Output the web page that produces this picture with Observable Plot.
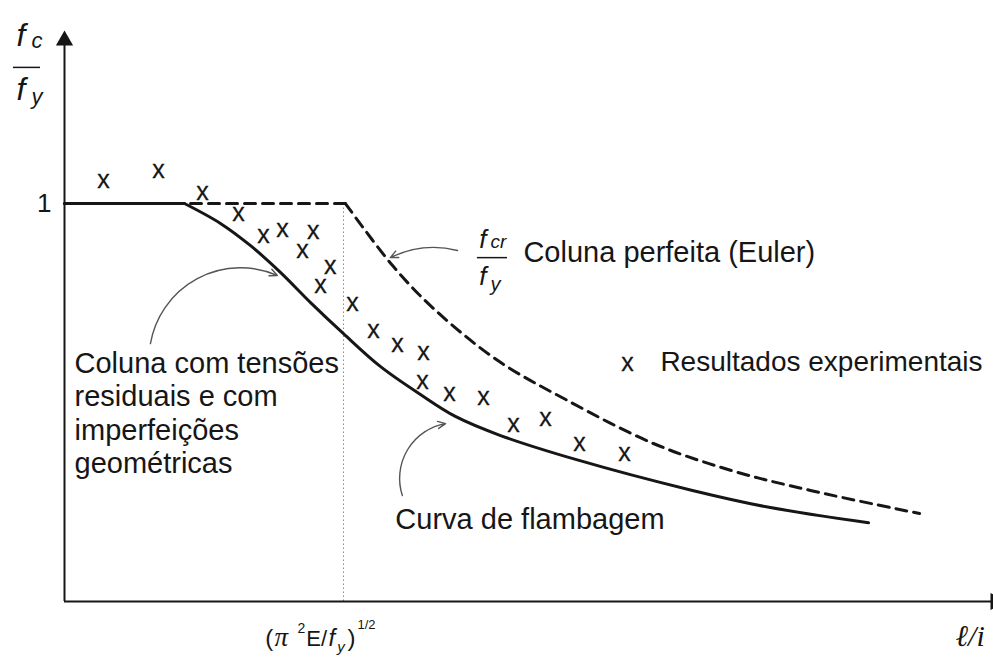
<!DOCTYPE html>
<html>
<head>
<meta charset="utf-8">
<script src="https://cdn.jsdelivr.net/npm/d3@7"></script>
<script src="https://cdn.jsdelivr.net/npm/@observablehq/plot@0.6"></script>
<style>
  html, body { margin: 0; padding: 0; background: #fff; }
  #chart { width: 993px; height: 657px; overflow: hidden; }
</style>
</head>
<body>
<div id="chart"></div>
<script>
// x: slenderness ℓ/i normalised so that 1 = (π²E/f_y)^1/2 ; y: stress ratio f_c/f_y

// Buckling curve (column with residual stresses and geometric imperfections)
const bucklingX = [0, 0.43, 0.559, 0.667, 0.774, 0.882, 1.0, 1.133, 1.276, 1.401, 1.563, 1.832, 2.251, 2.530, 2.882];
const bucklingY = [1, 1, 0.950, 0.894, 0.827, 0.751, 0.673, 0.590, 0.520, 0.465, 0.417, 0.357, 0.279, 0.236, 0.198];

// Perfect column (Euler) f_cr/f_y, capped at 1
const eulerX = [0, 1.007, 1.176, 1.323, 1.552, 1.803, 2.111, 2.391, 2.674, 3.065];
const eulerY = [1, 1, 0.844, 0.736, 0.606, 0.505, 0.397, 0.329, 0.279, 0.221];

// Experimental results
const testX = [0.14, 0.337, 0.495, 0.624, 0.713, 0.781, 0.892, 0.853, 0.953, 0.918, 1.032,
               1.108, 1.194, 1.287, 1.283, 1.380, 1.502, 1.609, 1.724, 1.846, 2.007];
const testY = [1.060, 1.083, 1.030, 0.977, 0.920, 0.935, 0.932, 0.882, 0.844, 0.794, 0.751,
               0.681, 0.646, 0.626, 0.553, 0.523, 0.515, 0.445, 0.460, 0.397, 0.372];

// Reference slenderness and y tick
const limitX = 1;
const yTicks = [1];

const xMax = 3.33, yMax = 1.4347;

const buckling = bucklingX.map((x, i) => ({x, y: bucklingY[i]}));
const euler = eulerX.map((x, i) => ({x, y: eulerY[i]}));
const tests = testX.map((x, i) => ({x, y: testY[i]}));

// Text pieces (baseline-anchored) for labels with sub/superscripts
const INK = "#161616";
const runs = [
  // axis title f_c / f_y
  {x: -0.172, y: 1.397, t: "f", size: 32, italic: true},
  {x: -0.118, y: 1.390, t: "c", size: 22, italic: true},
  {x: -0.172, y: 1.259, t: "f", size: 32, italic: true},
  {x: -0.118, y: 1.249, t: "y", size: 22, italic: true},
  // f_cr / f_y  Coluna perfeita (Euler)
  {x: 1.487, y: 0.889, t: "f", size: 26, italic: true},
  {x: 1.527, y: 0.889, t: "cr", size: 19, italic: true},
  {x: 1.487, y: 0.794, t: "f", size: 26, italic: true},
  {x: 1.527, y: 0.779, t: "y", size: 20, italic: true},
  {x: 1.645, y: 0.852, t: "Coluna perfeita (Euler)", size: 29},
  // Curva de flambagem
  {x: 1.186, y: 0.183, t: "Curva de flambagem", size: 29},
  // legend
  {x: 2.136, y: 0.580, t: "Resultados experimentais", size: 28},
  // (π² E/f_y)^1/2 under the reference slenderness
  {x: 0.720, y: -0.111, t: "(", size: 24},
  {x: 0.753, y: -0.111, t: "π", size: 27, italic: true, serif: true},
  {x: 0.835, y: -0.078, t: "2", size: 14},
  {x: 0.867, y: -0.111, t: "E/", size: 22},
  {x: 0.946, y: -0.111, t: "f", size: 24, italic: true},
  {x: 0.978, y: -0.128, t: "y", size: 15, italic: true},
  {x: 1.014, y: -0.111, t: ")", size: 24},
  {x: 1.050, y: -0.068, t: "1/2", size: 13},
  // x axis title ℓ/i
  {x: 3.194, y: -0.111, t: "ℓ/i", size: 30, italic: true, serif: true}
];

const fractionBars = [
  {x1: -0.183, x2: -0.086, y: 1.342},
  {x1: 1.480, x2: 1.588, y: 0.864}
];

const leaders = [
  {x1: 0.308, y1: 0.648, x2: 0.763, y2: 0.819, bend: 52},
  {x1: 1.211, y1: 0.266, x2: 1.366, y2: 0.447, bend: 49},
  {x1: 1.409, y1: 0.882, x2: 1.168, y2: 0.864, bend: -20}
];

const sideNote = {x: 0.036, y: 0.632,
  t: "Coluna com tensões\nresiduais e com\nimperfeições\ngeométricas"};
const legendMark = {x: 2.018, y: 0.600};

const chart = Plot.plot({
  width: 993,
  height: 657,
  marginLeft: 64,
  marginRight: 0,
  marginTop: 30,
  marginBottom: 56,
  x: {domain: [0, xMax], axis: null},
  y: {domain: [0, yMax]},
  style: {fontFamily: "'Liberation Sans', Arial, sans-serif", color: INK, background: "#fff"},
  marks: [
    // reference slenderness
    Plot.ruleX([limitX], {y1: 0, y2: 1, stroke: "#8a8a8a", strokeWidth: 1, strokeDasharray: "1.5,2.5"}),
    // axes with arrow heads
    Plot.ruleY([0], {x1: 0, x2: xMax, stroke: INK, strokeWidth: 2}),
    Plot.ruleX([0], {y1: 0, y2: 1.41, stroke: INK, strokeWidth: 2}),
    Plot.dot([{x: 0, y: 1.4095}], {x: "x", y: "y", symbol: "triangle", r: 6.4, fill: INK, stroke: null}),
    Plot.dot([{x: 3.337, y: 0}], {x: "x", y: "y", symbol: "triangle", r: 6.4, fill: INK, stroke: null, rotate: 90}),
    Plot.axisY({ticks: yTicks, tickFormat: d => String(d), tickSize: 0, tickPadding: 13, fontSize: 26, label: null}),
    // perfect column (dashed)
    Plot.line(euler.slice(0, 2), {x: "x", y: "y", stroke: INK, strokeWidth: 3, strokeDasharray: "11,7"}),
    Plot.line(euler.slice(1), {x: "x", y: "y", curve: "catmull-rom", stroke: INK, strokeWidth: 3, strokeDasharray: "11,7"}),
    // buckling curve (solid)
    Plot.line(buckling.slice(0, 2), {x: "x", y: "y", stroke: INK, strokeWidth: 3}),
    Plot.line(buckling.slice(1), {x: "x", y: "y", curve: "catmull-rom", stroke: INK, strokeWidth: 3, strokeLinecap: "round"}),
    // experimental results
    Plot.text(tests, {x: "x", y: "y", text: () => "x", fontSize: 25, fill: INK, stroke: INK, strokeWidth: 0.3}),
    Plot.text([legendMark], {x: "x", y: "y", text: () => "x", fontSize: 25, fill: INK, stroke: INK, strokeWidth: 0.3}),
    // leader arrows
    ...leaders.map(d => Plot.arrow([d], {x1: "x1", y1: "y1", x2: "x2", y2: "y2", bend: d.bend,
      stroke: "#555", strokeWidth: 1.4, headLength: 9, headAngle: 50})),
    // fraction bars
    Plot.ruleY(fractionBars, {y: "y", x1: "x1", x2: "x2", stroke: INK, strokeWidth: 1.5}),
    // side note
    Plot.text([sideNote], {x: "x", y: "y", text: "t", fontSize: 29, lineHeight: 1.14,
      textAnchor: "start", lineAnchor: "top", fill: INK}),
    // label pieces
    ...runs.map(r => Plot.text([r], {x: "x", y: "y", text: "t", fontSize: r.size,
      fontStyle: r.italic ? "italic" : "normal",
      fontFamily: r.serif ? "'Liberation Serif', 'DejaVu Serif', serif" : "'Liberation Sans', Arial, sans-serif",
      textAnchor: "start", lineAnchor: "bottom", fill: INK}))
  ]
});

document.getElementById("chart").appendChild(chart);
</script>
</body>
</html>
